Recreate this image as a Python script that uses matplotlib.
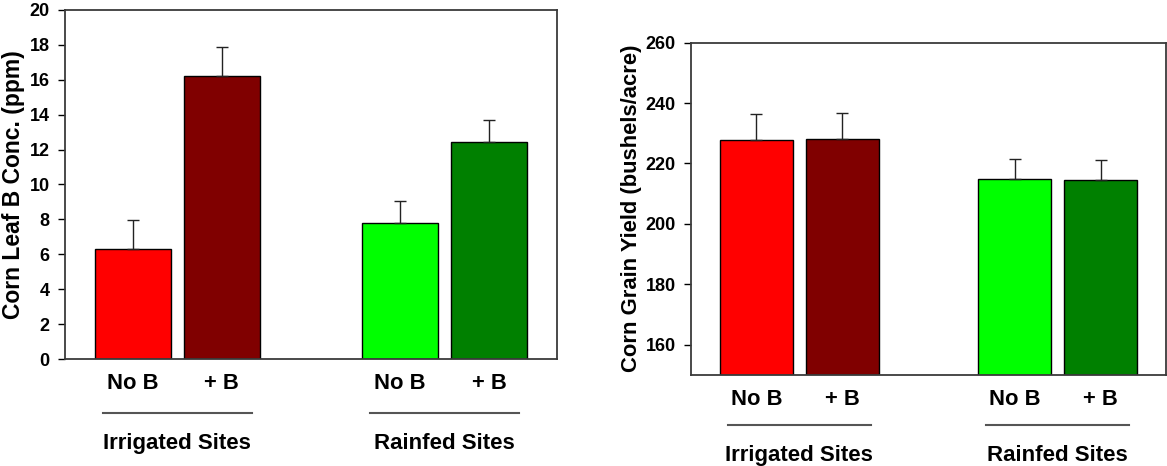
import matplotlib
matplotlib.use("Agg")
import matplotlib.pyplot as plt
import numpy as np

plt.rcParams['font.family'] = ['Liberation Sans', 'DejaVu Sans']
plt.rcParams['font.weight'] = 'bold'

# Treatments and site groups
treatments = ['No B', '+ B', 'No B', '+ B']
groups = ['Irrigated Sites', 'Rainfed Sites']
colors = ['#ff0000', '#800000', '#00ff00', '#008000']
positions = [0, 1, 3, 4]

# Leaf boron concentration (ppm) with standard errors
leaf_b = [6.3, 16.2, 7.8, 12.45]
leaf_b_err = [1.67, 1.65, 1.23, 1.27]

# Grain yield (bushels/acre) with standard errors
grain_yield = [227.8, 228.0, 214.8, 214.4]
grain_yield_err = [8.7, 8.6, 6.8, 6.7]

fig = plt.figure(figsize=(11.67, 4.66), dpi=100)
ax1 = fig.add_axes([0.0557, 0.2296, 0.4216, 0.749])
ax2 = fig.add_axes([0.5921, 0.1959, 0.407, 0.7124])


def draw_panel(ax, means, errs, ylim, yticks, ylabel, label_size, label_x, line_y, group_y):
    ax.bar(positions, means, width=0.855, color=colors, edgecolor='black',
           linewidth=1.0, zorder=2)
    ax.errorbar(positions, means, yerr=[np.zeros(len(errs)), errs], fmt='none',
                ecolor='#222222', elinewidth=1.0, capsize=4.5, capthick=1.0, zorder=3)
    ax.set_xlim(-0.76, 4.76)
    ax.set_ylim(*ylim)
    ax.set_yticks(yticks)
    ax.set_xticks(positions)
    ax.set_xticklabels(treatments, fontsize=15.8, fontweight='bold')
    ax.tick_params(axis='x', length=0, pad=10)
    ax.tick_params(axis='y', direction='out', length=5, width=1, labelsize=13, pad=6)
    for lab in ax.get_yticklabels():
        lab.set_fontweight('bold')
    ax.set_ylabel(ylabel, fontsize=label_size, fontweight='bold', va='center')
    ax.yaxis.set_label_coords(label_x, 0.5)
    for sp in ax.spines.values():
        sp.set_color('#3a3a3a')
        sp.set_linewidth(1.3)

    # group underlines and group names below the treatment labels
    trans = ax.get_xaxis_transform()
    for center, name in zip([0.5, 3.5], groups):
        ax.plot([center - 0.835, center + 0.835], [line_y, line_y], color='#555555',
                linewidth=1.5, transform=trans, clip_on=False)
        ax.text(center, group_y, name, transform=trans, ha='center', va='center',
                fontsize=16, fontweight='bold')


draw_panel(ax1, leaf_b, leaf_b_err, (0, 20), np.arange(0, 21, 2),
           'Corn Leaf B Conc. (ppm)', 16.5, -0.104, -0.155, -0.241)
draw_panel(ax2, grain_yield, grain_yield_err, (150, 260), np.arange(160, 261, 20),
           'Corn Grain Yield (bushels/acre)', 15.8, -0.126, -0.1515, -0.242)

fig.savefig('out.png', dpi=100)
